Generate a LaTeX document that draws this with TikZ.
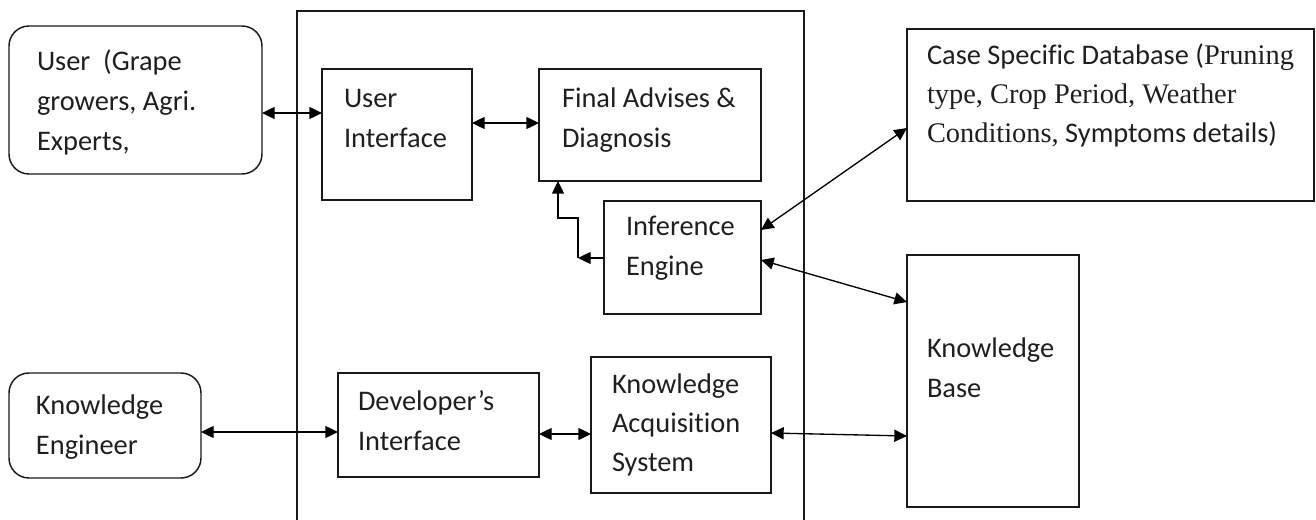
\documentclass[tikz,border=0pt]{standalone}
\usepackage{fontspec}
\setmainfont[Ligatures=NoCommon]{Carlito}
\newfontfamily\tms[Ligatures=NoCommon]{Liberation Serif}
\usetikzlibrary{arrows.meta,fit}
\begin{document}
\begin{tikzpicture}[x=0.75pt,y=-0.75pt,
  box/.style={draw=black!90,line width=1.1pt,inner sep=0pt,outer sep=0pt},
  rbox/.style={box,rounded corners=15pt},
  txt/.style={anchor=north west,inner sep=0pt,outer sep=0pt,align=left,font=\fontsize{21.3}{30}\selectfont,text=black!88},
  arr/.style={line width=1pt,{Triangle[length=9.5pt,width=9pt]}-{Triangle[length=9.5pt,width=9pt]}},
  tip/.style={line width=1pt,-{Triangle[length=9.5pt,width=9pt]}}]
\useasboundingbox (0,0) rectangle (1316,520);
% boxes
\node[box,fit={(297,11) (804,530)}] (sys) {};
\node[rbox,fit={(9,26) (262,174)}] (user) {};
\node[box,fit={(322,69) (472,200)}] (ui) {};
\node[box,fit={(539,69) (761,181)}] (fa) {};
\node[box,fit={(604,201) (761,314)}] (ie) {};
\node[box,fit={(907,29) (1314,201)}] (case) {};
\node[box,fit={(907,255) (1079,507)}] (kb) {};
\node[rbox,fit={(9,373) (201,478)}] (ke) {};
\node[box,fit={(338,373) (539,477)}] (di) {};
\node[box,fit={(591,357) (771,493)}] (kas) {};
% texts
\node[txt] (userT) at (37,48.7) {\rule{0pt}{16pt}User\ \ (Grape\\growers, Agri.\\Experts,};
\node[txt] (uiT) at (344,85.7) {\rule{0pt}{16pt}User\\Interface};
\node[txt] (faT) at (562,85.7) {\rule{0pt}{16pt}Final Advises \&\\Diagnosis};
\node[txt] (ieT) at (626,213.7) {\rule{0pt}{16pt}Inference\\Engine};
\node[txt,font=\fontsize{21.3}{29.25}\selectfont] (caseT) at (927,42.7) {\rule{0pt}{16pt}Case Specific Database ({\tms Pruning}\\{\tms type, Crop Period, Weather}\\{\tms Conditions,} Symptoms details)};
\node[txt] (kbT) at (927,335.7) {\rule{0pt}{16pt}Knowledge\\Base};
\node[txt] (keT) at (36,392.7) {\rule{0pt}{16pt}Knowledge\\Engineer};
\node[txt] (diT) at (358,388.7) {\rule{0pt}{16pt}Developer’s\\Interface};
\node[txt,font=\fontsize{21.3}{29.25}\selectfont] (kasT) at (612,371.7) {\rule{0pt}{16pt}Knowledge\\Acquisition\\System};
% connectors
\draw[arr] (user.east |- 0,113) -- (ui.west |- 0,113);
\draw[arr] (ui.east |- 0,123) -- (fa.west |- 0,123);
\coordinate (k1) at (578,258);
\coordinate (k2) at (578,218);
\coordinate (k3) at (558,218);
\draw[tip] (ie.west |- k1) -- (k1);
\draw[tip] (k1) -- (k2) -- (k3) -- (fa.south -| k3);
\draw[arr] (ie.east |- 0,230) -- (case.west |- 0,128);
\draw[arr] (ie.east |- 0,260) -- (kb.west |- 0,302);
\draw[arr] (ke.east |- 0,432) -- (di.west |- 0,432);
\draw[arr] (di.east |- 0,434) -- (kas.west |- 0,434);
\draw[arr] (kas.east |- 0,433) -- (kb.west |- 0,436);
\end{tikzpicture}
\end{document}
